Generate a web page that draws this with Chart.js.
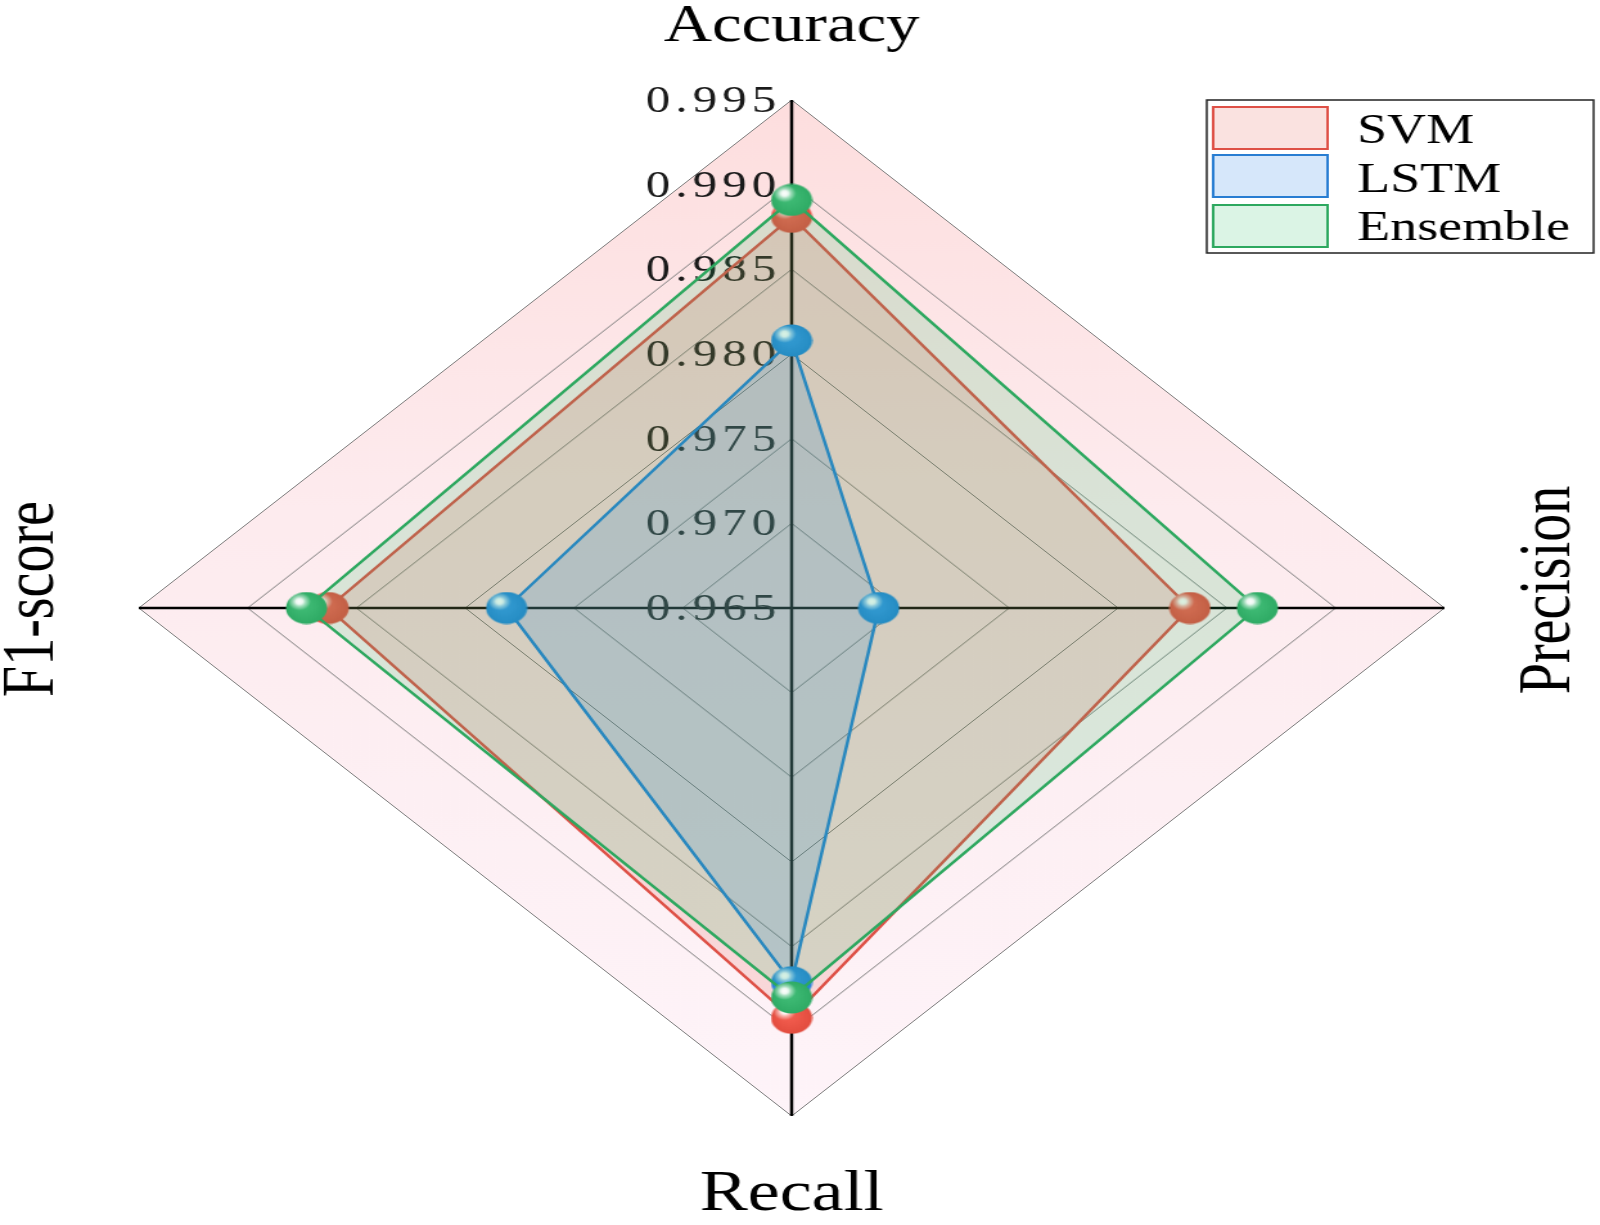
<!DOCTYPE html>
<html>
<head>
<meta charset="utf-8">
<script src="https://cdn.jsdelivr.net/npm/chart.js@4.4.0/dist/chart.umd.min.js"></script>
<style>
  body { margin: 0; background: #ffffff; }
</style>
</head>
<body>
<!-- the original figure is stretched sideways, so the canvas is drawn narrow and widened by css -->
<canvas id="radar" width="1245" height="1225" style="display:block;width:1600px;height:1225px"></canvas>
<script>
let categories = ['Accuracy', 'Precision', 'Recall', 'F1-score'];
let seriesNames = ['SVM', 'LSTM', 'Ensemble'];
let svmValues = [0.9881, 0.9833, 0.9892, 0.9863];
let lstmValues = [0.9808, 0.9690, 0.9871, 0.9781];
let ensembleValues = [0.9891, 0.9864, 0.9880, 0.9873];
let tickLabels = ['0.965', '0.970', '0.975', '0.980', '0.985', '0.990', '0.995'];

let lineColors = ['rgb(222,80,70)', 'rgb(40,125,210)', 'rgb(45,168,95)'];
let fillColors = ['rgba(220,60,50,0.15)', 'rgba(30,120,230,0.18)', 'rgba(40,190,100,0.17)'];
let ballColors = [[226, 76, 62], [36, 130, 214], [46, 170, 100]];

function makeBall(rgb) {
    let c = document.createElement('canvas');
    c.width = 33;
    c.height = 33;
    let g = c.getContext('2d');
    let base = g.createRadialGradient(13, 12, 2, 16.5, 16.5, 16.5);
    base.addColorStop(0, `rgb(${rgb[0] + 20},${rgb[1] + 20},${rgb[2] + 20})`);
    base.addColorStop(1, `rgb(${rgb[0]},${rgb[1]},${rgb[2]})`);
    g.fillStyle = base;
    g.beginPath();
    g.arc(16.5, 16.5, 16, 0, Math.PI * 2);
    g.fill();
    let shine = g.createRadialGradient(11, 10, 0, 11, 10, 9);
    shine.addColorStop(0, 'rgba(255,255,255,1)');
    shine.addColorStop(0.3, 'rgba(255,255,255,0.9)');
    shine.addColorStop(0.55, 'rgba(255,255,255,0.5)');
    shine.addColorStop(1, 'rgba(255,255,255,0)');
    g.fillStyle = shine;
    g.beginPath();
    g.arc(11, 10, 9, 0, Math.PI * 2);
    g.fill();
    return c;
}

let allValues = [svmValues, lstmValues, ensembleValues];
let datasets = allValues.map((vals, i) => ({
    label: seriesNames[i],
    data: vals,
    borderColor: lineColors[i],
    backgroundColor: fillColors[i],
    borderWidth: 2.5,
    fill: true,
    pointStyle: makeBall(ballColors[i]),
    pointRadius: 16,
    order: 3 - i
}));

const radarExtras = {
    id: 'radarExtras',
    beforeDraw(chart) {
        let r = chart.scales.r;
        let ctx = chart.ctx;
        ctx.save();
        let grad = ctx.createLinearGradient(0, r.yCenter - r.drawingArea, 0, r.yCenter + r.drawingArea);
        grad.addColorStop(0, 'rgb(253,222,222)');
        grad.addColorStop(0.4, 'rgb(253,235,238)');
        grad.addColorStop(1, 'rgb(254,244,249)');
        ctx.beginPath();
        categories.forEach((c, i) => {
            let p = r.getPointPositionForValue(i, r.max);
            if (i === 0) ctx.moveTo(p.x, p.y); else ctx.lineTo(p.x, p.y);
        });
        ctx.closePath();
        ctx.fillStyle = grad;
        ctx.fill();
        ctx.restore();
    },
    beforeDatasetsDraw(chart) {
        let r = chart.scales.r;
        let ctx = chart.ctx;
        ctx.save();
        ctx.font = '38px "Liberation Serif"';
        ctx.fillStyle = '#1a1a1a';
        ctx.textAlign = 'right';
        ctx.textBaseline = 'middle';
        if ('letterSpacing' in ctx) ctx.letterSpacing = '4px';
        tickLabels.forEach(t => {
            let p = r.getPointPositionForValue(0, parseFloat(t));
            ctx.fillText(t, r.xCenter - 8, p.y + 2);
        });
        ctx.restore();
    },
    afterDraw(chart) {
        let r = chart.scales.r;
        let ctx = chart.ctx;
        ctx.save();
        ctx.fillStyle = '#000000';
        ctx.textAlign = 'center';
        ctx.textBaseline = 'alphabetic';
        ctx.font = '52px "Liberation Serif"';
        ctx.fillText(categories[0], r.xCenter, 41);
        ctx.font = '56px "Liberation Serif"';
        ctx.fillText(categories[2], r.xCenter, 1210);
        ctx.save();
        ctx.translate(1221, 590);
        ctx.rotate(-Math.PI / 2);
        ctx.fillText(categories[1], 0, 0);
        ctx.restore();
        ctx.save();
        ctx.translate(41, 599);
        ctx.rotate(-Math.PI / 2);
        ctx.fillText(categories[3], 0, 0);
        ctx.restore();

        // legend box
        ctx.strokeStyle = '#222222';
        ctx.lineWidth = 1.5;
        ctx.fillStyle = '#ffffff';
        ctx.fillRect(939, 100, 301, 153);
        ctx.strokeRect(939, 100, 301, 153);
        ctx.font = '42px "Liberation Serif"';
        ctx.textAlign = 'left';
        let rowTops = [107, 155, 205];
        let baselines = [143, 192, 240];
        seriesNames.forEach((name, i) => {
            ctx.fillStyle = '#ffffff';
            ctx.fillRect(944, rowTops[i], 89, 42);
            ctx.fillStyle = fillColors[i];
            ctx.fillRect(944, rowTops[i], 89, 42);
            ctx.strokeStyle = lineColors[i];
            ctx.lineWidth = 2;
            ctx.strokeRect(944, rowTops[i], 89, 42);
            ctx.fillStyle = '#000000';
            ctx.fillText(name, 1056, baselines[i]);
        });
        ctx.restore();
    }
};

let ctx = document.getElementById('radar').getContext('2d');
new Chart(ctx, {
    type: 'radar',
    data: {
        labels: categories,
        datasets: datasets
    },
    options: {
        responsive: false,
        devicePixelRatio: 1,
        animation: false,
        layout: {
            padding: { left: 108, right: 121, top: 100, bottom: 109 }
        },
        elements: {
            line: { tension: 0 }
        },
        plugins: {
            legend: { display: false },
            tooltip: { enabled: false }
        },
        scales: {
            r: {
                min: 0.965,
                max: 0.995,
                ticks: { display: false, stepSize: 0.005 },
                pointLabels: { display: false },
                grid: { color: 'rgb(125,125,125)', lineWidth: 1 },
                angleLines: { color: '#000000', lineWidth: 2.5 }
            }
        }
    },
    plugins: [radarExtras]
});
</script>
</body>
</html>
